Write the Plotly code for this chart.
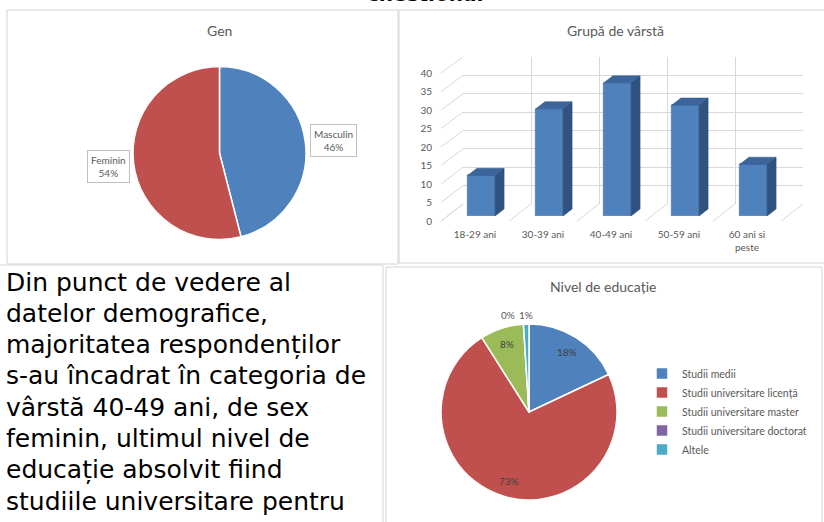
import math
import plotly.graph_objects as go

W, H = 824, 522

# ---------------- data ----------------
gen_labels = ["Masculin", "Feminin"]
gen_values = [46, 54]
gen_colors = ["#4F81BD", "#C0504D"]

age_groups = ["18-29 ani", "30-39 ani", "40-49 ani", "50-59 ani", "60 ani si<br>peste"]
age_counts = [11, 29, 36, 30, 14]
y_ticks = [0, 5, 10, 15, 20, 25, 30, 35, 40]

edu_labels = ["Studii medii", "Studii universitare licență", "Studii universitare master",
              "Studii universitare doctorat", "Altele"]
edu_values = [18, 73, 8, 0, 1]
edu_colors = ["#4F81BD", "#C0504D", "#9BBB59", "#8064A2", "#4BACC6"]

paragraph = [
    "Din punct de vedere al",
    "datelor demografice,",
    "majoritatea respondenților",
    "s-au încadrat în categoria de",
    "vârstă 40-49 ani, de sex",
    "feminin, ultimul nivel de",
    "educație absolvit fiind",
    "studiile universitare pentru",
]

GRAY = "#595959"
GRID = "#D9D9D9"
CHART_FONT = "Lato"


def fx(x):
    return x / W


def fy(y):
    return 1 - y / H


fig = go.Figure()

# ---------------- Gen pie ----------------
fig.add_trace(go.Pie(
    labels=gen_labels, values=gen_values, sort=False, direction="clockwise", rotation=0,
    marker=dict(colors=gen_colors, line=dict(color="white", width=1.5)),
    textinfo="none", showlegend=False, hoverinfo="label+percent",
    domain=dict(x=[fx(133), fx(306)], y=[fy(239.5), fy(66.5)]),
))

# ---------------- Education pie ----------------
EDU_C = (529, 412)
EDU_R = 87
fig.add_trace(go.Pie(
    labels=edu_labels, values=edu_values, sort=False, direction="clockwise", rotation=0,
    marker=dict(colors=edu_colors, line=dict(color="white", width=1.5)),
    textinfo="none", showlegend=True, hoverinfo="label+percent",
    domain=dict(x=[fx(EDU_C[0] - EDU_R - 1), fx(EDU_C[0] + EDU_R + 1)],
                y=[fy(EDU_C[1] + EDU_R + 1), fy(EDU_C[1] - EDU_R - 1)]),
))

# ---------------- bar chart (pseudo 3D) ----------------
fig.add_trace(go.Scatter(x=[], y=[], xaxis="x", yaxis="y", showlegend=False, hoverinfo="skip"))
cat_idx = list(range(len(age_groups)))
bar_w = 0.4
fig.add_trace(go.Bar(
    x=cat_idx, y=age_counts, xaxis="x2", yaxis="y2", width=bar_w,
    marker=dict(color="#4F81BD", line=dict(color="#3E6A9F", width=0.5)),
    showlegend=False, hovertemplate="%{y}<extra></extra>",
))
fig.add_trace(go.Scatter(x=[], y=[], xaxis="x3", yaxis="y3", showlegend=False, hoverinfo="skip"))

back = dict(x0=463, x1=803, y0=204, y1=57)
bars = dict(x0=447.5, x1=787.5, y0=216, y1=68)
front = dict(x0=441, x1=781, y0=221, y1=73)

axis_hidden = dict(showticklabels=False, ticks="", zeroline=False, showline=False, automargin=False)
fig.update_layout(
    xaxis=dict(domain=[fx(back["x0"]), fx(back["x1"])], range=[-0.5, 4.5], anchor="y",
               tickvals=[i - 0.5 for i in range(len(age_groups) + 1)],
               showgrid=True, gridcolor=GRID, gridwidth=1, **axis_hidden),
    yaxis=dict(domain=[fy(back["y0"]), fy(back["y1"])], range=[0, 40], anchor="x",
               tickvals=y_ticks, showgrid=True, gridcolor=GRID, gridwidth=1, **axis_hidden),
    xaxis2=dict(domain=[fx(bars["x0"]), fx(bars["x1"])], range=[-0.5, 4.5], anchor="y2",
                visible=False, automargin=False),
    yaxis2=dict(domain=[fy(bars["y0"]), fy(bars["y1"])], range=[0, 40], anchor="x2",
                visible=False, automargin=False),
    xaxis3=dict(domain=[fx(front["x0"]), fx(front["x1"])], range=[-0.5, 4.5], anchor="y3",
                tickvals=cat_idx, ticktext=age_groups, showgrid=False, zeroline=False,
                showline=False, ticks="", ticklabelstandoff=6, automargin=False,
                tickfont=dict(family=CHART_FONT, size=10, color=GRAY)),
    yaxis3=dict(domain=[fy(front["y0"]), fy(front["y1"])], range=[0, 40], anchor="x3",
                tickvals=y_ticks, showgrid=False, zeroline=False, showline=False, ticks="",
                ticklabelstandoff=8, automargin=False,
                tickfont=dict(family=CHART_FONT, size=10, color=GRAY)),
)

shapes = []


def vy(frame, v):
    return frame["y0"] + (frame["y1"] - frame["y0"]) * v / 40.0


def cx(frame, c):
    return frame["x0"] + (frame["x1"] - frame["x0"]) * (c + 0.5) / len(age_groups)


for v in y_ticks:
    shapes.append(dict(type="line", xref="paper", yref="paper",
                       x0=fx(front["x0"]), y0=fy(vy(front, v)),
                       x1=fx(back["x0"]), y1=fy(vy(back, v)),
                       line=dict(color=GRID, width=1), layer="below"))
for b in [i - 0.5 for i in range(len(age_groups) + 1)]:
    shapes.append(dict(type="line", xref="paper", yref="paper",
                       x0=fx(cx(front, b)), y0=fy(vy(front, 0)),
                       x1=fx(cx(back, b)), y1=fy(vy(back, 0)),
                       line=dict(color=GRID, width=1), layer="below"))

ddx = 9 / 68.0
ddy = 7 / 3.7
for i, v in zip(cat_idx, age_counts):
    l, r = i - bar_w / 2, i + bar_w / 2
    shapes.append(dict(type="path", xref="x2", yref="y2",
                       path=f"M{r},0 L{r + ddx},{ddy} L{r + ddx},{v + ddy} L{r},{v} Z",
                       fillcolor="#30527F", line=dict(color="#2B4A73", width=0.5)))
    shapes.append(dict(type="path", xref="x2", yref="y2",
                       path=f"M{l},{v} L{r},{v} L{r + ddx},{v + ddy} L{l + ddx},{v + ddy} Z",
                       fillcolor="#3C659C", line=dict(color="#2F5686", width=0.5)))

BORDER = "#D4D4D4"
for (x0, y0, x1, y1) in [(7, 10, 398, 264), (399, 10, 826, 263),
                         (-2, 265, 383, 526), (386, 267, 822, 526)]:
    shapes.append(dict(type="rect", xref="paper", yref="paper",
                       x0=fx(x0), y0=fy(y1), x1=fx(x1), y1=fy(y0),
                       line=dict(color=BORDER, width=1), fillcolor="rgba(0,0,0,0)",
                       layer="below"))

annotations = []
for txt, x, y in [("Gen", 219, 30), ("Grupă de vârstă", 615, 30), ("Nivel de educație", 603, 286)]:
    annotations.append(dict(text=txt, x=fx(x), y=fy(y), xref="paper", yref="paper",
                            showarrow=False, xanchor="center", yanchor="middle",
                            font=dict(family=CHART_FONT, size=14, color=GRAY)))
annotations.append(dict(text="<b>chestionar</b>", x=fx(426), y=fy(-6), xref="paper", yref="paper",
                        showarrow=False, xanchor="center", yanchor="middle",
                        font=dict(family="DejaVu Sans", size=20, color="black")))
for lab, val, (x, y) in zip(gen_labels, gen_values, [(333, 140), (108, 166)]):
    annotations.append(dict(text=f"{lab}<br>{val}%", x=fx(x), y=fy(y), xref="paper", yref="paper",
                            showarrow=False, xanchor="center", yanchor="middle",
                            bordercolor="#BFBFBF", borderwidth=1, borderpad=3, bgcolor="white",
                            font=dict(family=CHART_FONT, size=10, color=GRAY)))

# education data labels, placed at slice mid-angles
total = float(sum(edu_values))
cum = 0.0
for k, v in enumerate(edu_values):
    mid = (cum + v / 2.0) / total * 2 * math.pi
    cum += v
    if v >= 5:
        rr, col = 0.82, "#404040"
        px_ = EDU_C[0] + rr * EDU_R * math.sin(mid)
    else:
        rr, col = 1.12, GRAY
        px_ = EDU_C[0] + rr * EDU_R * math.sin(mid) + (-15 if v == 0 else 0)
    py_ = EDU_C[1] - rr * EDU_R * math.cos(mid)
    annotations.append(dict(text=f"{round(v / total * 100)}%", x=fx(px_), y=fy(py_),
                            xref="paper", yref="paper", showarrow=False,
                            xanchor="center", yanchor="middle",
                            font=dict(family=CHART_FONT, size=10, color=col)))

for k, line in enumerate(paragraph):
    baseline = 291 + 31.3 * k
    annotations.append(dict(text=line, x=fx(4), y=fy(baseline - 9), xref="paper", yref="paper",
                            showarrow=False, xanchor="left", yanchor="middle",
                            font=dict(family="DejaVu Sans", size=25, color="black")))

fig.update_layout(
    width=W, height=H, autosize=False,
    margin=dict(l=0, r=0, t=0, b=0, pad=0, autoexpand=False),
    paper_bgcolor="white", plot_bgcolor="rgba(0,0,0,0)",
    shapes=shapes, annotations=annotations,
    legend=dict(x=fx(642), y=fy(359), xanchor="left", yanchor="top",
                font=dict(family=CHART_FONT, size=10.5, color=GRAY),
                itemwidth=30, bgcolor="rgba(0,0,0,0)"),
    bargap=0,
)

fig.write_html("out.html", config={"displayModeBar": False},
               post_script="document.body.style.margin='0';")
